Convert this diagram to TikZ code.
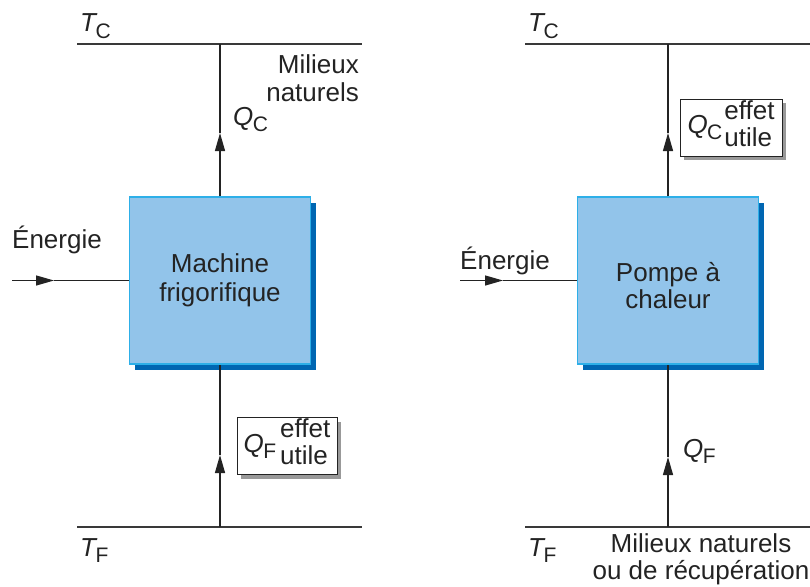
\documentclass[tikz,border=0pt]{standalone}
\usepackage{fontspec}
\setmainfont{Liberation Sans}
\usetikzlibrary{arrows.meta,shadows}
\definecolor{boxfill}{RGB}{146,196,234}
\definecolor{boxline}{RGB}{45,175,232}
\definecolor{boxshadow}{RGB}{0,102,178}
\definecolor{ink}{RGB}{35,35,35}
\newcommand\qsym[2]{{\itshape #1}\kern-0.5pt\raisebox{-6pt}{\fontsize{21}{21}\selectfont #2}}
\newcommand\useful{\begin{tabular}[c]{@{}l@{}}effet\\utile\end{tabular}}
\begin{document}
\begin{tikzpicture}[x=1pt,y=-1pt, font=\fontsize{26}{27}\selectfont, text=ink,
  every node/.style={inner sep=0pt},
  machine/.style={draw=boxline, line width=1.2pt, fill=boxfill, minimum width=181pt, minimum height=167pt,
    drop shadow={shadow xshift=5pt, shadow yshift=-6pt, fill=boxshadow, opacity=1}},
  boxtext/.style={align=center},
  qbox/.style={draw=ink, line width=1pt, fill=white, inner xsep=6pt, inner ysep=1pt,
    drop shadow={shadow xshift=4pt, shadow yshift=-4pt, fill=black!40, opacity=1}},
  level/.style={draw=ink!90, line width=1.3pt},
  flow/.style={draw=ink, line width=1.3pt},
  tipflow/.style={flow, -{Triangle[length=18pt,width=10pt]}},
]
\useasboundingbox (0,0) rectangle (810,586);

% ---------- left: machine frigorifique ----------
\coordinate (lTopL) at (77,44);  \coordinate (lTopR) at (362,44);
\coordinate (lBotL) at (77,527); \coordinate (lBotR) at (362,527);
\draw[level] (lTopL) -- (lTopR);
\draw[level] (lBotL) -- (lBotR);
\coordinate (lTop) at (220,44);
\coordinate (lBot) at (220,527);
\node[machine] (mf) at (220,280.5) {};
\node[boxtext] (mftext) at (mf.center) {Machine\\[2pt]frigorifique};
\coordinate (lTipC) at (220,133);
\coordinate (lTipF) at (220,455);
\draw[tipflow] (mf.north) -- (lTipC);
\draw[flow] (lTipC) -- (lTop);
\draw[tipflow] (lBot) -- (lTipF);
\draw[flow] (lTipF) -- (mf.south);
\coordinate (eL) at (12,280.5);
\coordinate (eLtip) at (54,280.5);
\draw[tipflow] (eL) -- (eLtip);
\draw[flow] (eLtip) -- (mf.west);
\node[anchor=west] (eLtext) at (12,240) {Énergie};
\node[anchor=base west] (lTC) at (80,32) {\qsym{T}{C}};
\node[anchor=base west] (lTF) at (80,556) {\qsym{T}{F}};
\node[anchor=west] (lQC) at (233,120) {\qsym{Q}{C}};
\node[anchor=north east, align=right] (lmil) at (359,54) {Milieux\\[1pt]naturels};
\node[qbox, minimum width=100pt, minimum height=57pt] (lQF) at (287,446) {\qsym{Q}{F}\hspace{4pt}\useful};

% ---------- right: pompe a chaleur ----------
\coordinate (rTopL) at (525,44);  \coordinate (rTopR) at (812,44);
\coordinate (rBotL) at (525,527); \coordinate (rBotR) at (812,527);
\draw[level] (rTopL) -- (rTopR);
\draw[level] (rBotL) -- (rBotR);
\coordinate (rTop) at (668,44);
\coordinate (rBot) at (668,527);
\node[machine] (pac) at (668,280.5) {};
\node[boxtext] (pactext) at ([yshift=-5pt]pac.center) {Pompe à\\chaleur};
\coordinate (rTipC) at (668,133);
\coordinate (rTipF) at (668,457);
\draw[tipflow] (pac.north) -- (rTipC);
\draw[flow] (rTipC) -- (rTop);
\draw[tipflow] (rBot) -- (rTipF);
\draw[flow] (rTipF) -- (pac.south);
\coordinate (eR) at (460,280.5);
\coordinate (eRtip) at (503,280.5);
\draw[tipflow] (eR) -- (eRtip);
\draw[flow] (eRtip) -- (pac.west);
\node[anchor=west] (eRtext) at (460,261) {Énergie};
\node[anchor=base west] (rTC) at (528,32) {\qsym{T}{C}};
\node[anchor=base west] (rTF) at (528,556) {\qsym{T}{F}};
\node[anchor=west] (rQF) at (683,451) {\qsym{Q}{F}};
\node[qbox, minimum width=102pt, minimum height=57pt] (rQC) at (731,127.5) {\qsym{Q}{C}\hspace{2pt}\useful};
\node[anchor=north, align=center] (rmil) at (701,533) {Milieux naturels\\ou de récupération};
\end{tikzpicture}
\end{document}
